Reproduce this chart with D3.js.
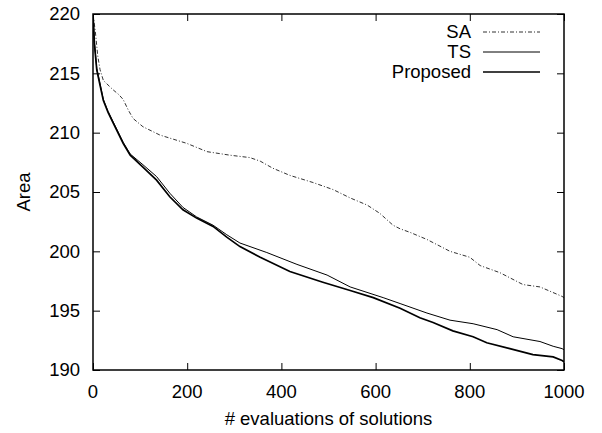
<!DOCTYPE html>
<html>
<head>
<meta charset="utf-8">
<script src="https://cdn.jsdelivr.net/npm/d3@7"></script>
<style>
  body { margin: 0; background: #fff; }
  svg { display: block; }
  text { font-family: 'Liberation Sans', Arial, sans-serif; font-size: 18.5px; fill: #000; }
</style>
</head>
<body>
<svg width="602" height="433"></svg>
<script>
const evalsSA = [0, 5, 10, 15, 22, 35, 43, 55, 64, 75, 85, 106, 142, 199, 242, 291, 333, 355, 382, 418, 467, 510, 546, 582, 609, 637, 652, 673, 709, 758, 800, 822, 864, 913, 949, 996, 1000]
const areaSA = [220, 218.5, 216.5, 215.3, 214.4, 213.9, 213.6, 213.2, 212.8, 211.9, 211.2, 210.5, 209.8, 209.1, 208.4, 208.1, 207.9, 207.6, 207.0, 206.4, 205.8, 205.2, 204.5, 203.9, 203.2, 202.2, 201.9, 201.6, 201.0, 200.0, 199.5, 198.8, 198.2, 197.2, 197.0, 196.2, 196.1]

const evalsTS = [0, 3, 8, 15, 22, 32, 43, 64, 79, 106, 135, 163, 191, 220, 255, 284, 312, 369, 433, 497, 546, 616, 652, 709, 758, 807, 858, 892, 949, 977, 996, 1000]
const areaTS = [220, 217.6, 215.4, 214.1, 212.8, 211.8, 210.9, 209.2, 208.2, 207.3, 206.3, 204.9, 203.7, 202.9, 202.2, 201.4, 200.7, 199.9, 198.9, 198.0, 197.0, 196.1, 195.6, 194.8, 194.2, 193.9, 193.4, 192.8, 192.4, 192.0, 191.8, 191.7]

const evalsProposed = [0, 3, 8, 15, 22, 32, 43, 64, 79, 106, 135, 163, 191, 220, 255, 284, 312, 355, 418, 488, 546, 595, 652, 694, 722, 764, 807, 836, 885, 934, 977, 996, 1000]
const areaProposed = [220, 217.5, 215.3, 214.0, 212.7, 211.7, 210.8, 209.1, 208.1, 207.1, 206.0, 204.6, 203.5, 202.8, 202.1, 201.2, 200.4, 199.5, 198.3, 197.4, 196.7, 196.1, 195.2, 194.4, 194.0, 193.3, 192.8, 192.3, 191.8, 191.3, 191.1, 190.8, 190.7]

const xTicks = [0, 200, 400, 600, 800, 1000]
const yTicks = [190, 195, 200, 205, 210, 215, 220]

const series = [
  { name: 'SA', x: evalsSA, y: areaSA, width: 1, dash: '4,2,1,2', color: '#333' },
  { name: 'TS', x: evalsTS, y: areaTS, width: 1, dash: null, color: '#000' },
  { name: 'Proposed', x: evalsProposed, y: areaProposed, width: 1.7, dash: null, color: '#000' }
]

const svg = d3.select('svg')
const margin = { top: 14, right: 38, bottom: 63, left: 93 }
const innerWidth = +svg.attr('width') - margin.left - margin.right
const innerHeight = +svg.attr('height') - margin.top - margin.bottom

const xScale = d3.scaleLinear().domain([0, 1000]).range([0, innerWidth])
const yScale = d3.scaleLinear().domain([190, 220]).range([innerHeight, 0])

const g = svg.append('g')
  .attr('transform', `translate(${margin.left}, ${margin.top})`)

g.append('clipPath').attr('id', 'clip')
  .append('rect').attr('width', innerWidth).attr('height', innerHeight)

const line = d3.line()
  .x(d => xScale(d[0]))
  .y(d => yScale(d[1]))

const plot = g.append('g').attr('clip-path', 'url(#clip)')
series.forEach(s => {
  plot.append('path')
    .datum(s.x.map((v, i) => [v, s.y[i]]))
    .attr('d', line)
    .attr('fill', 'none')
    .attr('stroke', s.color)
    .attr('stroke-width', s.width)
    .attr('stroke-dasharray', s.dash)
})

// tick marks on all four sides, pointing inward
const axes = [
  [d3.axisBottom(xScale).tickValues(xTicks), `translate(0, ${innerHeight})`],
  [d3.axisTop(xScale).tickValues(xTicks), 'translate(0, 0)'],
  [d3.axisLeft(yScale).tickValues(yTicks), 'translate(0, 0)'],
  [d3.axisRight(yScale).tickValues(yTicks), `translate(${innerWidth}, 0)`]
]
axes.forEach(([axis, tr]) => {
  g.append('g').attr('transform', tr).call(axis.tickSize(-7).tickFormat(''))
})
g.selectAll('.tick text').remove()
g.selectAll('.domain').remove()
g.selectAll('.tick line').attr('stroke', '#000').attr('stroke-width', 1)

// tick labels
g.selectAll('.xlabel')
  .data(xTicks)
  .enter()
  .append('text')
  .attr('class', 'xlabel')
  .attr('x', d => xScale(d))
  .attr('y', innerHeight + 28)
  .attr('text-anchor', 'middle')
  .text(d => d)

g.selectAll('.ylabel')
  .data(yTicks)
  .enter()
  .append('text')
  .attr('class', 'ylabel')
  .attr('x', -13)
  .attr('y', d => yScale(d))
  .attr('dy', '0.35em')
  .attr('text-anchor', 'end')
  .text(d => d)

g.append('rect')
  .attr('width', innerWidth)
  .attr('height', innerHeight)
  .attr('fill', 'none')
  .attr('stroke', '#000')
  .attr('stroke-width', 1.5)

// legend
const legend = g.selectAll('.legend')
  .data(series)
  .enter()
  .append('g')
  .attr('class', 'legend')
  .attr('transform', (d, i) => `translate(0, ${18 + i * 20})`)

legend.append('text')
  .attr('x', 378)
  .attr('dy', '0.35em')
  .attr('text-anchor', 'end')
  .text(d => d.name)

legend.append('line')
  .attr('x1', 390)
  .attr('x2', 447)
  .attr('stroke', d => d.color)
  .attr('stroke-width', d => d.width)
  .attr('stroke-dasharray', d => d.dash)

// axis titles
svg.append('text')
  .attr('x', margin.left + innerWidth / 2)
  .attr('y', 425)
  .attr('text-anchor', 'middle')
  .text('# evaluations of solutions')

svg.append('text')
  .attr('transform', `translate(30, ${margin.top + innerHeight / 2}) rotate(-90)`)
  .attr('text-anchor', 'middle')
  .text('Area')
</script>
</body>
</html>
